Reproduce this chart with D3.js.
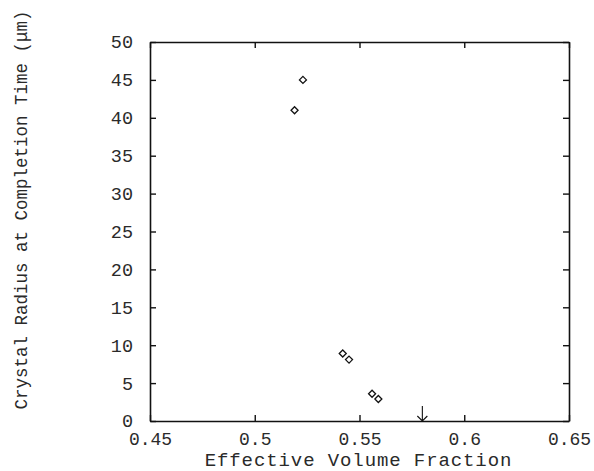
<!DOCTYPE html>
<html>
<head>
<meta charset="utf-8">
<script src="https://cdn.jsdelivr.net/npm/d3@7"></script>
<style>
body { margin: 0; background: #fff; }
text { font-family: "Courier New", "Liberation Mono", monospace; fill: #2a2a2a; }
</style>
</head>
<body>
<svg id="chart" width="594" height="471"></svg>
<script>
// values
const fraction = [0.519, 0.523, 0.542, 0.545, 0.556, 0.559];
const radius = [41, 45, 8.9, 8.1, 3.6, 2.9];
const xTicks = [0.45, 0.5, 0.55, 0.6, 0.65];
const yTicks = [0, 5, 10, 15, 20, 25, 30, 35, 40, 45, 50];
const arrowAt = 0.58;

const svg = d3.select("#chart");
const margin = {top: 42, right: 25, bottom: 50, left: 150};
const width = +svg.attr("width") - margin.left - margin.right;
const height = +svg.attr("height") - margin.top - margin.bottom;
const g = svg.append("g").attr("transform", `translate(${margin.left},${margin.top})`);

const x = d3.scaleLinear().domain([0.45, 0.65]).range([0, width]);
const y = d3.scaleLinear().domain([0, 50]).range([height, 0]);

const fmt = d => String(d);

// bottom axis with labels, ticks pointing inward
const xAxis = g.append("g")
    .attr("transform", `translate(0,${height})`)
    .call(d3.axisBottom(x).tickValues(xTicks).tickFormat(fmt).tickSizeInner(-6).tickSizeOuter(0).tickPadding(11));
xAxis.selectAll("text").style("font-size", "18px");

const yAxis = g.append("g")
    .call(d3.axisLeft(y).tickValues(yTicks).tickFormat(fmt).tickSizeInner(-6).tickSizeOuter(0).tickPadding(17));
yAxis.selectAll("text").style("font-size", "18.5px");

// mirrored ticks on top and right
g.append("g")
    .call(d3.axisTop(x).tickValues(xTicks).tickFormat("").tickSizeInner(-6).tickSizeOuter(0));
g.append("g")
    .attr("transform", `translate(${width},0)`)
    .call(d3.axisRight(y).tickValues(yTicks).tickFormat("").tickSizeInner(-6).tickSizeOuter(0));

g.selectAll(".domain").attr("stroke", "#111").attr("stroke-width", 1.6);
g.selectAll(".tick line").attr("stroke", "#111").attr("stroke-width", 1.4);

// data points: open diamonds
g.selectAll(".pt")
    .data(fraction.map((f, i) => [f, radius[i]]))
    .enter().append("path")
    .attr("class", "pt")
    .attr("transform", d => `translate(${x(d[0])},${y(d[1])})`)
    .attr("d", "M0,-3.5L3.5,0L0,3.5L-3.5,0Z")
    .attr("fill", "none")
    .attr("stroke", "#111")
    .attr("stroke-width", 1.3);

// arrow marking a fraction on the axis
const ax = x(arrowAt);
g.append("path")
    .attr("d", `M${ax},${height - 15}L${ax},${height}M${ax - 5},${height - 5}L${ax},${height}L${ax + 5},${height - 5}`)
    .attr("fill", "none")
    .attr("stroke", "#111")
    .attr("stroke-width", 1.1);

// axis titles
svg.append("text")
    .attr("x", margin.left + width / 2 - 1)
    .attr("y", 466)
    .attr("text-anchor", "middle")
    .style("font-size", "19px")
    .style("letter-spacing", "0.9px")
    .text("Effective Volume Fraction");

svg.append("text")
    .attr("transform", `translate(27,${210}) rotate(-90)`)
    .attr("text-anchor", "middle")
    .style("font-size", "17.5px")
    .text("Crystal Radius at Completion Time (μm)");
</script>
</body>
</html>
